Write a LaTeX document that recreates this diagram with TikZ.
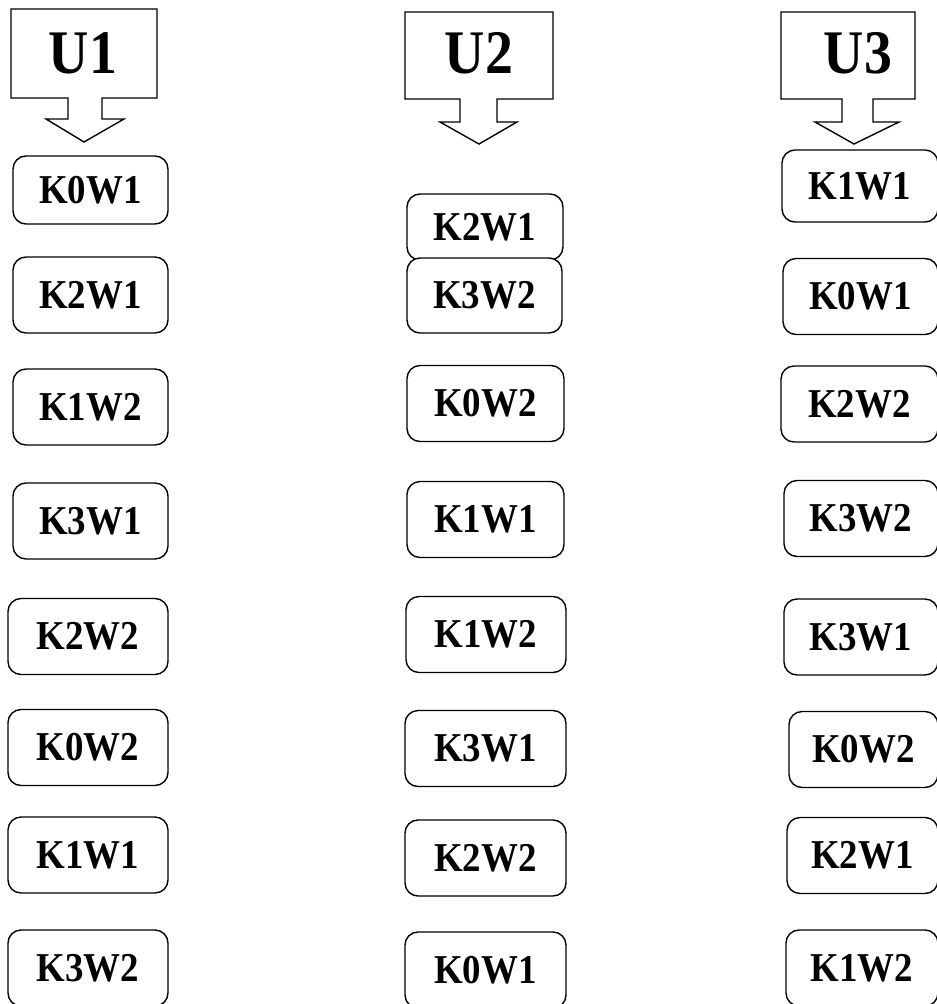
\documentclass[tikz,border=0pt]{standalone}
\usepackage{fontspec}
\setmainfont{Liberation Serif}[FakeStretch=0.9]
\begin{document}
\begin{tikzpicture}[x=1pt, y=-1pt, line width=1.4pt,
  kbox/.style={draw, fill=white, rounded corners=13pt, inner sep=0pt,
    minimum width=155pt, minimum height=76pt,
    font=\fontsize{41}{42}\selectfont\bfseries},
  ulabel/.style={inner sep=0pt, font=\fontsize{62}{64}\selectfont\bfseries}]
  \useasboundingbox (0,0) rectangle (937,1004);
  % down arrow callouts
  \draw (11,9) -- (157,9) -- (157,98) -- (102,98) -- (102,119) -- (124,119) -- (84,142) -- (46,119) -- (68,119) -- (68,98) -- (11,98) -- cycle;
  \draw (405,12) -- (553,12) -- (553,99) -- (497,99) -- (497,122) -- (517,122) -- (479,144) -- (440,122) -- (460,122) -- (460,99) -- (405,99) -- cycle;
  \draw (781,12) -- (915,12) -- (915,99) -- (873,99) -- (873,122) -- (899,122) -- (854,144) -- (815,122) -- (842,122) -- (842,99) -- (781,99) -- cycle;
  \node[ulabel] (u1) at (83,53) {U1};
  \node[ulabel] (u2) at (479,53) {U2};
  \node[ulabel] (u3) at (858,53) {U3};
  % column U1
  \node[kbox, minimum height=68pt] (a1) at (90.5,190) {K0W1};
  \node[kbox] (a2) at (90.5,295) {K2W1};
  \node[kbox] (a3) at (90.5,407) {K1W2};
  \node[kbox] (a4) at (90.5,521) {K3W1};
  \node[kbox, minimum width=160pt] (a5) at (88,636.5) {K2W2};
  \node[kbox, minimum width=160pt] (a6) at (88,747.5) {K0W2};
  \node[kbox, minimum width=160pt] (a7) at (88,855) {K1W1};
  \node[kbox, minimum width=160pt] (a8) at (88,968) {K3W2};
  % column U2
  \node[kbox, minimum width=156pt, minimum height=66pt] (b1) at (485,227) {K2W1};
  \node[kbox, minimum height=75pt] (b2) at (484.5,295.5) {K3W2};
  \node[kbox, minimum width=157pt] (b3) at (485.5,403.5) {K0W2};
  \node[kbox, minimum width=157pt] (b4) at (485.5,519.5) {K1W1};
  \node[kbox, minimum width=160pt] (b5) at (486,634.5) {K1W2};
  \node[kbox, minimum width=161pt] (b6) at (485.5,748.5) {K3W1};
  \node[kbox, minimum width=161pt] (b7) at (485.5,858) {K2W2};
  \node[kbox, minimum width=161pt] (b8) at (485.5,970) {K0W1};
  % column U3
  \node[kbox, minimum width=156pt, minimum height=72pt] (c1) at (860,186) {K1W1};
  \node[kbox] (c2) at (860.5,296.5) {K0W1};
  \node[kbox, minimum width=157pt] (c3) at (859.5,404) {K2W2};
  \node[kbox, minimum width=154pt] (c4) at (861,518.5) {K3W2};
  \node[kbox, minimum width=154pt] (c5) at (861,637) {K3W1};
  \node[kbox, minimum width=149pt] (c6) at (863.5,749.5) {K0W2};
  \node[kbox, minimum width=151pt] (c7) at (862.5,855.5) {K2W1};
  \node[kbox, minimum width=152pt] (c8) at (862,968) {K1W2};
\end{tikzpicture}
\end{document}
